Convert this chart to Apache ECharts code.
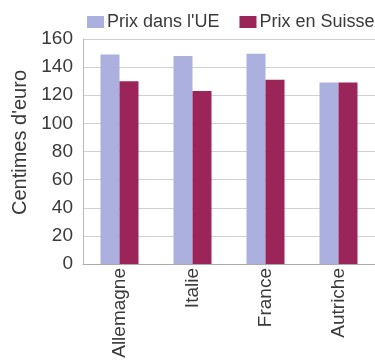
<!DOCTYPE html>
<html><head><meta charset="utf-8">
<script src="https://cdn.jsdelivr.net/npm/echarts@6/dist/echarts.min.js"></script>
<style>html,body{margin:0;padding:0;background:#fff}#c{width:375px;height:362px}</style>
</head><body><div id="c"></div>
<script>
const categories = ['Allemagne', 'Italie', 'France', 'Autriche'];
const prixUE = [149, 148, 149.5, 129];
const prixSuisse = [130, 123, 131, 129];
const yTicks = [0, 20, 40, 60, 80, 100, 120, 140, 160];
const seriesNames = ["Prix dans l'UE", 'Prix en Suisse'];

const font = 'Liberation Sans';
const chart = echarts.init(document.getElementById('c'));
chart.setOption({
  animation: false,
  textStyle: { fontFamily: font },
  legend: {
    left: 87, top: 13, width: 340, padding: 0, itemWidth: 17, itemHeight: 12, itemGap: 20,
    icon: 'rect',
    textStyle: { fontSize: 18, color: '#3a3a3a', fontFamily: font, padding: [0,0,0,-2] },
    data: seriesNames
  },
  grid: { left: 83, top: 39, width: 294, height: 225 },
  xAxis: {
    type: 'category', data: categories,
    axisLine: { lineStyle: { color: '#aaa' } },
    axisTick: { show: false },
    axisLabel: { rotate: 90, fontSize: 19, color: '#3a3a3a', margin: 4, fontFamily: font }
  },
  yAxis: {
    type: 'value', min: yTicks[0], max: yTicks[yTicks.length - 1], interval: 20,
    name: "Centimes d'euro", nameLocation: 'middle', nameGap: 46,
    nameTextStyle: { fontSize: 20, color: '#3a3a3a', fontFamily: font, padding: [8, 0, 0, 18] },
    axisLine: { show: true, lineStyle: { color: '#bbb' } },
    axisTick: { show: false },
    splitLine: { lineStyle: { color: '#d0d0d0' } },
    axisLabel: { fontSize: 19, color: '#3a3a3a', margin: 10, fontFamily: font }
  },
  series: [
    { name: seriesNames[0], type: 'bar', data: prixUE, barWidth: 19, barGap: '0%',
      itemStyle: { color: '#abb0de' } },
    { name: seriesNames[1], type: 'bar', data: prixSuisse, barWidth: 19,
      itemStyle: { color: '#9b2458' } }
  ]
});
</script></body></html>
